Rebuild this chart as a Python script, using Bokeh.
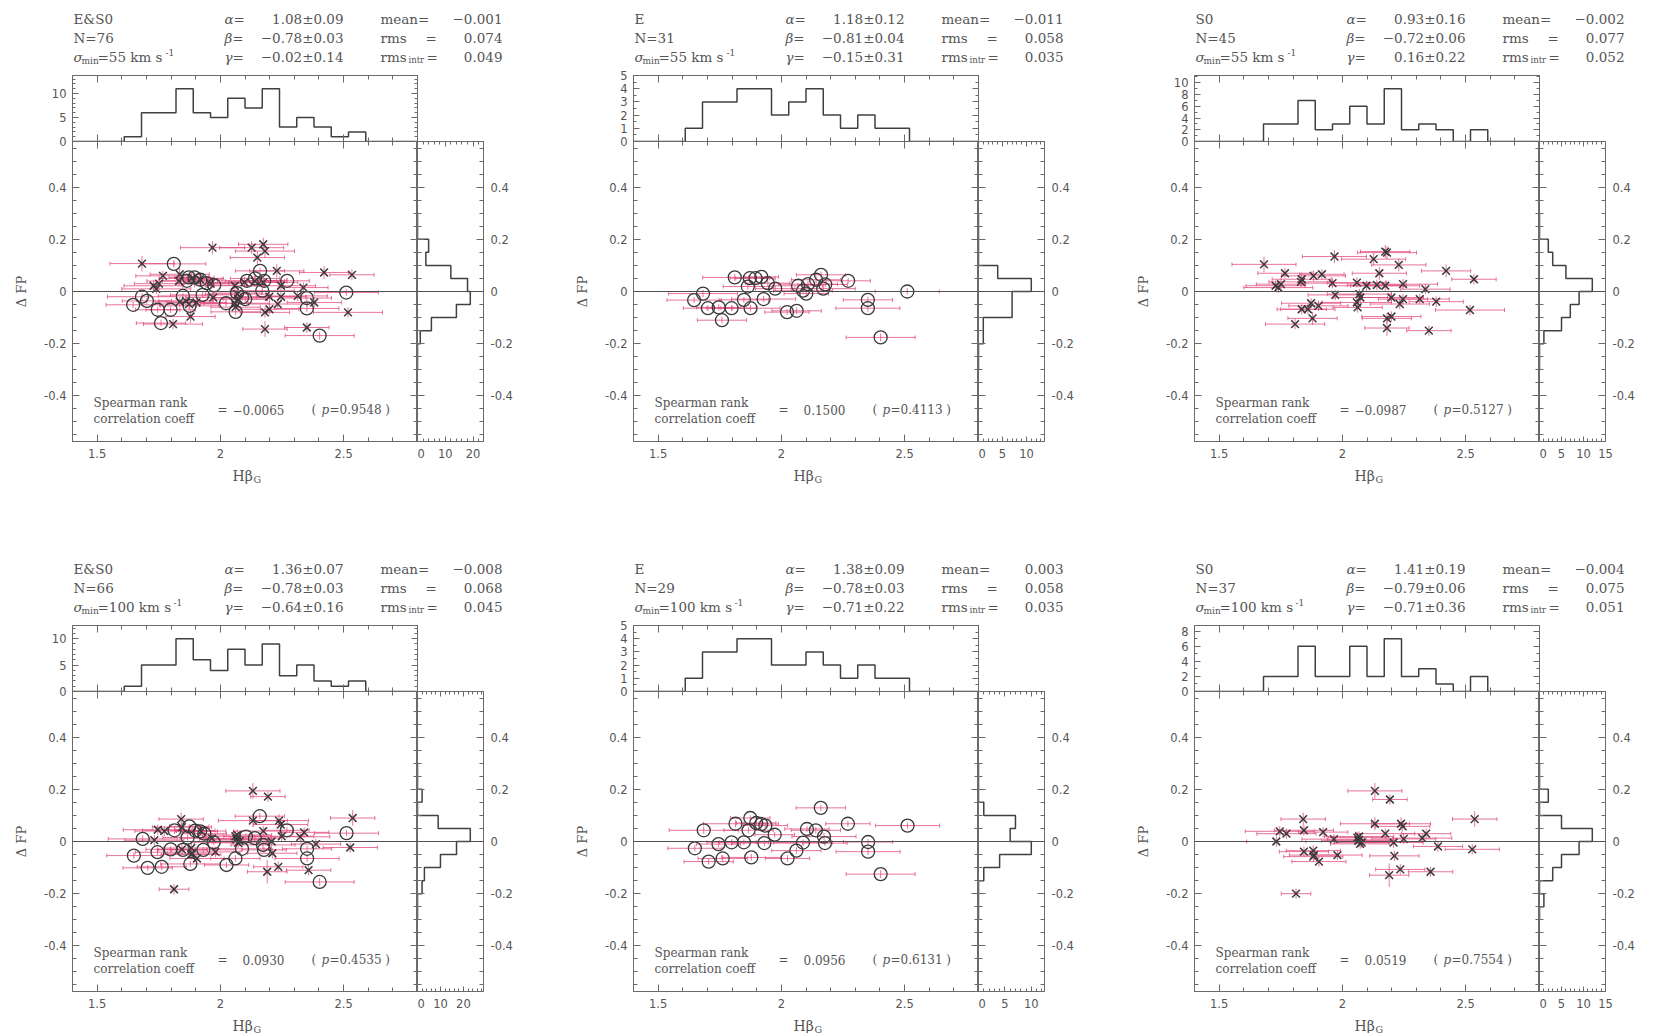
import numpy as np
from bokeh.plotting import figure
from bokeh.layouts import row, column
from bokeh.models import (Range1d, FixedTicker, LinearAxis, Label, Span,
                          PrintfTickFormatter, ColumnDataSource)
from bokeh.core.properties import value
from bokeh.embed import file_html
from bokeh.resources import INLINE

# ------------------------------------------------------------------ data
HB_EDGES = [1.40, 1.47, 1.54, 1.61, 1.68, 1.75, 1.82, 1.89, 1.96, 2.03, 2.10,
            2.17, 2.24, 2.31, 2.38, 2.45, 2.52, 2.59, 2.66, 2.73, 2.80]
DFP_EDGES = [-0.30, -0.25, -0.20, -0.15, -0.10, -0.05, 0.00, 0.05, 0.10,
             0.15, 0.20, 0.25, 0.30]

# ---- E galaxies, sigma_min = 55
HB_E55 = [1.646, 1.682, 1.702, 1.746, 1.759, 1.798, 1.811, 1.848, 1.864, 1.872,
          1.875, 1.895, 1.919, 1.928, 1.945, 1.975, 2.023, 2.062, 2.068, 2.088,
          2.101, 2.108, 2.141, 2.161, 2.170, 2.178, 2.271, 2.351, 2.351, 2.403, 2.511]
DFP_E55 = [-0.033, -0.008, -0.064, -0.061, -0.110, -0.064, 0.054, -0.032, 0.019, 0.051,
           -0.064, 0.051, 0.056, -0.029, 0.032, 0.011, -0.079, -0.074, 0.022, 0.003,
           -0.008, 0.028, 0.045, 0.064, 0.011, 0.027, 0.041, -0.032, -0.064, -0.176, 0.000]
DFP_E55_ALL = [-0.051, -0.020, -0.036, -0.070, -0.121, -0.070, 0.106, -0.017, 0.041, 0.054,
               -0.055, 0.054, 0.045, -0.013, 0.032, 0.024, -0.045, -0.078, -0.006, -0.023,
               -0.029, 0.041, 0.050, 0.079, 0.003, 0.041, 0.041, -0.025, -0.065, -0.169, -0.004]
XERR_E55 = [0.11, 0.14, 0.10, 0.09, 0.10, 0.10, 0.13, 0.10, 0.10, 0.08,
            0.12, 0.08, 0.07, 0.13, 0.09, 0.08, 0.09, 0.10, 0.10, 0.12,
            0.09, 0.12, 0.10, 0.10, 0.13, 0.09, 0.09, 0.10, 0.13, 0.14, 0.13]
YERR_E55 = [0.012, 0.014, 0.011, 0.012, 0.013, 0.012, 0.014, 0.011, 0.012, 0.010,
            0.013, 0.011, 0.010, 0.012, 0.011, 0.010, 0.012, 0.013, 0.011, 0.012,
            0.011, 0.012, 0.013, 0.012, 0.014, 0.011, 0.012, 0.012, 0.013, 0.015, 0.012]

# ---- S0 galaxies, sigma_min = 55
HB_S055 = [1.682, 1.729, 1.740, 1.751, 1.767, 1.808, 1.832, 1.835, 1.835, 1.860,
           1.873, 1.879, 1.883, 1.903, 1.917, 1.960, 1.968, 1.971, 2.059, 2.059,
           2.062, 2.069, 2.073, 2.098, 2.127, 2.140, 2.150, 2.174, 2.181, 2.174,
           2.181, 2.199, 2.181, 2.199, 2.229, 2.233, 2.246, 2.246, 2.314, 2.337,
           2.351, 2.381, 2.421, 2.518, 2.534]
DFP_S055 = [0.104, 0.022, 0.015, 0.028, 0.070, -0.125, 0.037, 0.047, -0.068, -0.068,
            -0.045, -0.103, 0.060, -0.055, 0.066, 0.032, 0.134, -0.013, 0.034, -0.042,
            -0.061, -0.010, -0.023, 0.022, 0.124, 0.025, 0.070, 0.153, 0.149, 0.022,
            -0.103, -0.096, -0.140, -0.023, 0.102, -0.048, 0.028, -0.029, -0.029, 0.009,
            -0.150, -0.039, 0.079, -0.071, 0.047]
DFP_S055_ALL = [0.107, 0.022, 0.010, 0.030, 0.060, -0.125, 0.040, 0.066, -0.040, -0.036,
                -0.048, -0.096, 0.050, -0.042, 0.047, 0.030, 0.168, -0.023, 0.022, -0.045,
                -0.060, -0.010, -0.029, 0.035, 0.168, 0.040, 0.130, 0.181, 0.155, 0.035,
                -0.080, -0.068, -0.144, -0.020, 0.079, -0.048, 0.022, -0.020, -0.017, 0.015,
                -0.138, -0.042, 0.073, -0.080, 0.064]
XERR_S055 = [0.13, 0.12, 0.14, 0.10, 0.11, 0.12, 0.13, 0.12, 0.10, 0.11,
             0.12, 0.10, 0.13, 0.12, 0.09, 0.14, 0.13, 0.11, 0.12, 0.14,
             0.10, 0.13, 0.11, 0.15, 0.13, 0.12, 0.11, 0.10, 0.12, 0.14,
             0.10, 0.12, 0.09, 0.13, 0.11, 0.12, 0.14, 0.10, 0.12, 0.10,
             0.09, 0.11, 0.10, 0.14, 0.09]
YERR_S055 = [0.030, 0.020, 0.020, 0.025, 0.020, 0.020, 0.020, 0.025, 0.020, 0.020,
             0.020, 0.025, 0.020, 0.020, 0.020, 0.020, 0.025, 0.020, 0.020, 0.020,
             0.020, 0.020, 0.020, 0.020, 0.025, 0.020, 0.025, 0.025, 0.025, 0.020,
             0.020, 0.020, 0.030, 0.020, 0.025, 0.020, 0.020, 0.020, 0.020, 0.020,
             0.020, 0.020, 0.025, 0.020, 0.020]

# ---- E galaxies, sigma_min = 100
HB_E100 = [1.649, 1.685, 1.705, 1.745, 1.762, 1.798, 1.814, 1.848, 1.867, 1.874,
           1.878, 1.898, 1.918, 1.931, 1.935, 1.973, 2.025, 2.061, 2.088, 2.104,
           2.140, 2.160, 2.173, 2.177, 2.270, 2.352, 2.352, 2.403, 2.512]
DFP_E100 = [-0.026, 0.043, -0.077, -0.010, -0.065, -0.003, 0.068, -0.003, 0.043, 0.090,
            -0.061, 0.071, 0.067, -0.006, 0.061, 0.026, -0.065, -0.035, -0.004, 0.048,
            0.043, 0.129, 0.019, -0.006, 0.068, -0.002, -0.039, -0.125, 0.061]
DFP_E100_ALL = [-0.054, 0.010, -0.101, -0.041, -0.097, -0.030, 0.043, -0.032, 0.015, 0.058,
                -0.086, 0.042, 0.039, -0.032, 0.030, -0.003, -0.090, -0.065, -0.028, 0.019,
                0.013, 0.097, -0.013, -0.032, 0.043, -0.028, -0.065, -0.155, 0.032]
XERR_E100 = [0.11, 0.14, 0.10, 0.09, 0.10, 0.10, 0.13, 0.10, 0.10, 0.08,
             0.12, 0.08, 0.07, 0.13, 0.09, 0.08, 0.09, 0.10, 0.12, 0.09,
             0.10, 0.10, 0.13, 0.09, 0.09, 0.10, 0.13, 0.14, 0.13]
YERR_E100 = [0.012, 0.014, 0.011, 0.012, 0.013, 0.012, 0.014, 0.011, 0.012, 0.010,
             0.013, 0.011, 0.010, 0.012, 0.011, 0.010, 0.012, 0.013, 0.012, 0.011,
             0.013, 0.012, 0.014, 0.011, 0.012, 0.012, 0.013, 0.015, 0.012]

# ---- S0 galaxies, sigma_min = 100
HB_S0100 = [1.732, 1.746, 1.773, 1.812, 1.841, 1.844, 1.844, 1.882, 1.882, 1.885,
            1.905, 1.922, 1.966, 1.980, 2.061, 2.065, 2.068, 2.068, 2.072, 2.078,
            2.132, 2.132, 2.174, 2.190, 2.193, 2.208, 2.211, 2.235, 2.238, 2.245,
            2.249, 2.324, 2.340, 2.358, 2.388, 2.527, 2.537]
DFP_S0100 = [0.000, 0.039, 0.030, -0.200, 0.086, 0.043, -0.039, -0.035, -0.058, -0.052,
             -0.077, 0.036, 0.009, -0.052, 0.015, 0.003, 0.019, 0.006, -0.009, -0.004,
             0.194, 0.068, 0.030, -0.129, 0.161, -0.004, -0.055, -0.107, 0.068, 0.058,
             0.010, 0.013, 0.030, -0.116, -0.019, -0.030, 0.086]
DFP_S0100_ALL = [0.005, 0.045, 0.040, -0.183, 0.086, 0.055, -0.030, -0.025, -0.050, -0.045,
                 -0.065, 0.040, 0.012, -0.040, 0.020, 0.008, 0.025, 0.010, -0.005, 0.002,
                 0.194, 0.080, 0.040, -0.116, 0.172, 0.000, -0.045, -0.097, 0.080, 0.065,
                 0.020, 0.018, 0.035, -0.110, -0.010, -0.023, 0.090]
XERR_S0100 = [0.12, 0.14, 0.12, 0.06, 0.09, 0.12, 0.10, 0.11, 0.12, 0.10,
              0.11, 0.10, 0.13, 0.10, 0.12, 0.15, 0.14, 0.13, 0.12, 0.11,
              0.11, 0.14, 0.12, 0.08, 0.07, 0.12, 0.10, 0.10, 0.12, 0.11,
              0.13, 0.12, 0.10, 0.09, 0.10, 0.11, 0.09]
YERR_S0100 = [0.020, 0.020, 0.020, 0.020, 0.025, 0.020, 0.020, 0.020, 0.020, 0.020,
              0.020, 0.020, 0.020, 0.020, 0.020, 0.020, 0.020, 0.020, 0.020, 0.020,
              0.030, 0.025, 0.020, 0.045, 0.020, 0.020, 0.020, 0.020, 0.025, 0.020,
              0.020, 0.020, 0.020, 0.020, 0.020, 0.020, 0.030]

# ---- histogram counts (H-beta bins of 0.07 from 1.40; Delta-FP bins of 0.05 from -0.30)
HBHIST_ES055 = [0, 0, 0, 1, 6, 6, 11, 6, 5, 9, 7, 11, 3, 5, 3, 1, 2, 0, 0, 0]
HBHIST_E55 = [0, 0, 0, 1, 3, 3, 4, 4, 2, 3, 4, 2, 1, 2, 1, 1, 0, 0, 0, 0]
HBHIST_S055 = [0, 0, 0, 0, 3, 3, 7, 2, 3, 6, 3, 9, 2, 3, 2, 0, 2, 0, 0, 0]
HBHIST_ES0100 = [0, 0, 0, 1, 5, 5, 10, 6, 4, 8, 5, 9, 3, 5, 2, 1, 2, 0, 0, 0]
HBHIST_E100 = [0, 0, 0, 1, 3, 3, 4, 4, 2, 2, 3, 2, 1, 2, 1, 1, 0, 0, 0, 0]
HBHIST_S0100 = [0, 0, 0, 0, 2, 2, 6, 2, 2, 6, 2, 7, 2, 3, 1, 0, 2, 0, 0, 0]

FPHIST_ES055 = [0, 0, 1, 5, 14, 19, 18, 12, 3, 4, 0, 0]
FPHIST_E55 = [0, 0, 1, 1, 7, 7, 11, 4, 0, 0, 0, 0]
FPHIST_S055 = [0, 0, 1, 5, 7, 9, 12, 6, 3, 2, 0, 0]
FPHIST_ES0100 = [0, 0, 2, 3, 10, 17, 23, 9, 0, 2, 0, 0]
FPHIST_E100 = [0, 0, 0, 1, 4, 10, 6, 7, 1, 0, 0, 0]
FPHIST_S0100 = [0, 1, 0, 3, 5, 9, 12, 5, 0, 2, 0, 0]

# ---- fit statistics printed on each panel
NAMES = ["E&S0", "E", "S0", "E&S0", "E", "S0"]
NGAL = [76, 31, 45, 66, 29, 37]
SIGMIN = [55, 55, 55, 100, 100, 100]
ALPHA = ["1.08±0.09", "1.18±0.12", "0.93±0.16", "1.36±0.07", "1.38±0.09", "1.41±0.19"]
BETA = ["−0.78±0.03", "−0.81±0.04", "−0.72±0.06", "−0.78±0.03", "−0.78±0.03", "−0.79±0.06"]
GAMMA = ["−0.02±0.14", "−0.15±0.31", "0.16±0.22", "−0.64±0.16", "−0.71±0.22", "−0.71±0.36"]
MEAN = ["−0.001", "−0.011", "−0.002", "−0.008", "0.003", "−0.004"]
RMS = ["0.074", "0.058", "0.077", "0.068", "0.058", "0.075"]
RMS_INTR = ["0.049", "0.035", "0.052", "0.045", "0.035", "0.051"]
SPEARMAN = ["−0.0065", "0.1500", "−0.0987", "0.0930", "0.0956", "0.0519"]
PVAL = ["0.9548", "0.4113", "0.5127", "0.4535", "0.6131", "0.7554"]

# ------------------------------------------------------------------ style / layout
SERIF = "DejaVu Serif"
SANS = "DejaVu Sans"
AXC = "#6a6a6a"
TXT = "#555555"
HISTC = "#404040"
MKC = "#3a3a3a"
ERRC = "#e2457a"

L, MW, RW = 72, 345, 66          # frame offsets / widths inside a panel
HEAD, TOPPAD, HT, MH = 65, 10, 66, 300
OVER = 7                          # overlap of top-histogram bottom border onto main plot
BT = 22                           # room for bottom tick labels
PW, PW_LAST = 561, 530
XL1, XL2 = 87, 20                 # x-label strip heights (row 1, row 2)

HB_MAJOR = [1.5, 2.0, 2.5]
HB_MINOR = [round(1.4 + 0.1 * i, 2) for i in range(15)]
FP_MAJOR = [-0.4, -0.2, 0.0, 0.2, 0.4]
FP_MINOR = [round(-0.55 + 0.05 * i, 2) for i in range(23)]


def base_fig(w, h, xr, yr, bl, br, bt, bb):
    p = figure(width=w, height=h, x_range=xr, y_range=yr, output_backend="svg",
               toolbar_location=None, x_axis_location=None, y_axis_location=None,
               min_border_left=bl, min_border_right=br, min_border_top=bt,
               min_border_bottom=bb)
    p.grid.visible = False
    p.outline_line_color = AXC
    p.outline_line_width = 1
    p.background_fill_color = None
    p.border_fill_color = None
    return p


def text_fig(w, h):
    kw = dict(width=w, height=h, x_range=Range1d(0, w), y_range=Range1d(0, h),
              output_backend="svg", toolbar_location=None, x_axis_location=None,
              y_axis_location=None, min_border=0)
    try:
        p = figure(frame_align=False, **kw)
    except Exception:
        p = figure(**kw)
    p.grid.visible = False
    p.outline_line_color = None
    p.background_fill_color = None
    p.border_fill_color = None
    return p


def txt(p, x, y, s, size=13.5, font=SERIF, style="normal", align="left",
        baseline="alphabetic"):
    p.text(x=[x], y=[y], text=[s], text_font=value(font),
           text_font_size=value(f"{size}px"), text_font_style=value(style),
           text_align=value(align), text_baseline=value(baseline),
           text_color=TXT)


def add_axis(p, side, ticks, minor, major_len=7, minor_len=4, standoff=6):
    ax = LinearAxis(ticker=FixedTicker(ticks=ticks, minor_ticks=minor))
    ax.major_tick_in = major_len
    ax.major_tick_out = 0
    ax.minor_tick_in = minor_len
    ax.minor_tick_out = 0
    ax.axis_line_color = AXC
    ax.major_tick_line_color = AXC
    ax.minor_tick_line_color = AXC
    ax.formatter = PrintfTickFormatter(format="%g")
    ax.major_label_text_font = SANS
    ax.major_label_text_font_size = "11.5px"
    ax.major_label_text_color = TXT
    ax.major_label_standoff = standoff
    p.add_layout(ax, side)
    return ax


def add_mirror(p, side, ticks, minor, major_len=7, minor_len=4):
    # tick marks only (no labels): each set drawn as 'minor' ticks of its own length
    for tk, ln in ((ticks, major_len), (minor, minor_len)):
        ax = LinearAxis(ticker=FixedTicker(ticks=[], minor_ticks=tk))
        ax.major_tick_in = 0
        ax.major_tick_out = 0
        ax.minor_tick_in = ln
        ax.minor_tick_out = 0
        ax.axis_line_color = AXC
        ax.minor_tick_line_color = AXC
        ax.major_label_standoff = 0
        p.add_layout(ax, side)


def lab(p, x, y, text, size=12, style="normal", align="left"):
    p.add_layout(Label(x=x, y=y, x_units="screen", y_units="screen", text=text,
                       text_font=SERIF, text_font_size=f"{size}px",
                       text_font_style=style, text_align=align,
                       text_baseline="alphabetic", text_color=TXT))


def step_path(edges, counts):
    a, b = [], []
    for i, c in enumerate(counts):
        a += [edges[i], edges[i + 1]]
        b += [c, c]
    return a, b


def draw_errors(p, hb, dfp, xe, ye):
    hb, dfp, xe, ye = (np.asarray(v, dtype=float) for v in (hb, dfp, xe, ye))
    src = ColumnDataSource(dict(x=hb, y=dfp, xl=hb - xe, xh=hb + xe,
                                yl=dfp - ye, yh=dfp + ye))
    p.segment(x0="xl", y0="y", x1="xh", y1="y", source=src,
              line_color=ERRC, line_width=1, line_alpha=0.75)
    p.segment(x0="x", y0="yl", x1="x", y1="yh", source=src,
              line_color=ERRC, line_width=1, line_alpha=0.75)
    for key in ("xl", "xh"):
        p.scatter(x=key, y="y", source=src, marker="dash", angle=np.pi / 2,
                  size=4, line_color=ERRC, line_alpha=0.75)
    return src


def draw_marks(p, src, kind):
    if kind == "E":
        p.scatter(x="x", y="y", source=src, marker="circle", size=13,
                  fill_color=None, line_color=MKC, line_width=1.3)
    else:
        p.scatter(x="x", y="y", source=src, marker="x", size=11,
                  line_color=MKC, line_width=1.5)


def make_panel(k, groups, hbhist, fphist, top_major, top_minor,
               rh_major, rh_minor, col, rowi):
    pw = PW_LAST if col == 2 else PW
    xl_h = XL1 if rowi == 0 else XL2
    rright = pw - L - MW - RW
    xr = Range1d(1.4, 2.8)
    yr = Range1d(-0.575, 0.575)
    top_ymax = 1.25 * max(hbhist)
    rh_xmax = 1.25 * max(fphist)

    # ---- header text
    hd = text_fig(pw, HEAD)
    y1, y2, y3 = 47, 27.5, 8.5
    A, Bx, Br, C, Cr = L + 1, L + 152, L + 271, L + 308, L + 430
    txt(hd, A, y1, NAMES[k])
    txt(hd, A, y2, f"N={NGAL[k]}")
    txt(hd, A, y3, "σ", style="italic")
    txt(hd, A + 8, y3 - 4, "min", size=9)
    txt(hd, A + 24, y3, f"={SIGMIN[k]} km s")
    txt(hd, A + (92 if SIGMIN[k] == 55 else 100), y3 + 5, "-1", size=9)
    txt(hd, Bx, y1, "α=", style="italic")
    txt(hd, Bx, y2, "β=", style="italic")
    txt(hd, Bx, y3, "γ=", style="italic")
    txt(hd, Br, y1, ALPHA[k], align="right")
    txt(hd, Br, y2, BETA[k], align="right")
    txt(hd, Br, y3, GAMMA[k], align="right")
    txt(hd, C, y1, "mean=")
    txt(hd, C, y2, "rms")
    txt(hd, C + 45, y2, "=")
    txt(hd, C, y3, "rms")
    txt(hd, C + 28, y3 - 3, "intr", size=8.5)
    txt(hd, C + 46, y3, "=")
    txt(hd, Cr, y1, MEAN[k], align="right")
    txt(hd, Cr, y2, RMS[k], align="right")
    txt(hd, Cr, y3, RMS_INTR[k], align="right")

    # ---- top histogram (its bottom border overlaps the main plot by OVER px)
    top = base_fig(pw, TOPPAD + HT + OVER, xr, Range1d(0, top_ymax), L, pw - L - MW,
                   TOPPAD, OVER)
    add_axis(top, "left", top_major, top_minor, major_len=6, minor_len=3)
    add_mirror(top, "right", top_major, top_minor, major_len=6, minor_len=3)
    add_mirror(top, "below", HB_MAJOR, HB_MINOR)
    add_mirror(top, "above", HB_MAJOR, HB_MINOR)
    hx, hy = step_path(HB_EDGES, hbhist)
    top.line(hx, hy, line_color=HISTC, line_width=1.5)

    # ---- main scatter
    main = base_fig(L + MW, MH + BT, xr, yr, L, 0, 0, BT)
    axl = add_axis(main, "left", FP_MAJOR, FP_MINOR)
    axl.axis_label = "Δ FP"
    axl.axis_label_text_font = SERIF
    axl.axis_label_text_font_size = "13px"
    axl.axis_label_text_font_style = "normal"
    axl.axis_label_text_color = TXT
    axl.axis_label_standoff = 12
    add_mirror(main, "right", FP_MAJOR, FP_MINOR)
    add_axis(main, "below", HB_MAJOR, HB_MINOR, standoff=7)
    add_mirror(main, "above", HB_MAJOR, HB_MINOR)
    main.add_layout(Span(location=0, dimension="width", line_color="#505050", line_width=1))
    srcs = [(draw_errors(main, *g[1:]), g[0]) for g in groups]
    for s, kind in srcs:
        draw_marks(main, s, kind)

    lab(main, 21, 39, "Spearman rank")
    lab(main, 21, 22.5, "correlation coeff")
    lab(main, 145, 32, "=")
    lab(main, 212, 32, SPEARMAN[k], align="right")
    lab(main, 239, 32, "(")
    lab(main, 249, 32, "p", style="italic")
    lab(main, 257, 32, f"={PVAL[k]} )")

    # ---- right histogram
    rh = base_fig(RW + rright, MH + BT, Range1d(0, rh_xmax), yr, 0, rright, 0, BT)
    add_mirror(rh, "left", FP_MAJOR, FP_MINOR)
    add_axis(rh, "right", FP_MAJOR, FP_MINOR, standoff=7)
    add_axis(rh, "below", rh_major, rh_minor, major_len=5, minor_len=3, standoff=7)
    add_mirror(rh, "above", rh_major, rh_minor, major_len=5, minor_len=3)
    rh.add_layout(Span(location=0, dimension="width", line_color="#505050", line_width=1))
    fy, fx = step_path(DFP_EDGES, fphist)
    rh.line(fx, fy, line_color=HISTC, line_width=1.5)

    # ---- x-axis title strip
    xl = text_fig(pw, xl_h)
    txt(xl, L + 160, xl_h - 12, "Hβ", size=14)
    txt(xl, L + 181, xl_h - 15.5, "G", size=9.5)

    body = row(main, rh, margin=(-OVER, 0, 0, 0))
    return column(hd, top, body, xl)


T10 = ([0, 5, 10], list(range(0, 15)))
T5 = ([0, 1, 2, 3, 4, 5], [i * 0.5 for i in range(11)])
T2a = ([0, 2, 4, 6, 8, 10], list(range(0, 12)))
T2b = ([0, 2, 4, 6, 8], list(range(0, 10)))
R20 = ([0, 10, 20], list(range(0, 32, 2)))
R10 = ([0, 5, 10], list(range(0, 15)))
R15 = ([0, 5, 10, 15], list(range(0, 18)))

p1 = make_panel(0, [("E", HB_E55, DFP_E55_ALL, XERR_E55, YERR_E55),
                    ("S0", HB_S055, DFP_S055_ALL, XERR_S055, YERR_S055)],
                HBHIST_ES055, FPHIST_ES055, *T10, *R20, 0, 0)
p2 = make_panel(1, [("E", HB_E55, DFP_E55, XERR_E55, YERR_E55)],
                HBHIST_E55, FPHIST_E55, *T5, *R10, 1, 0)
p3 = make_panel(2, [("S0", HB_S055, DFP_S055, XERR_S055, YERR_S055)],
                HBHIST_S055, FPHIST_S055, *T2a, *R15, 2, 0)
p4 = make_panel(3, [("E", HB_E100, DFP_E100_ALL, XERR_E100, YERR_E100),
                    ("S0", HB_S0100, DFP_S0100_ALL, XERR_S0100, YERR_S0100)],
                HBHIST_ES0100, FPHIST_ES0100, *T10, *R20, 0, 1)
p5 = make_panel(4, [("E", HB_E100, DFP_E100, XERR_E100, YERR_E100)],
                HBHIST_E100, FPHIST_E100, *T5, *R10, 1, 1)
p6 = make_panel(5, [("S0", HB_S0100, DFP_S0100, XERR_S0100, YERR_S0100)],
                HBHIST_S0100, FPHIST_S0100, *T2b, *R15, 2, 1)

page = column(row(p1, p2, p3), row(p4, p5, p6))
open("out.html", "w").write(file_html(page, INLINE))
